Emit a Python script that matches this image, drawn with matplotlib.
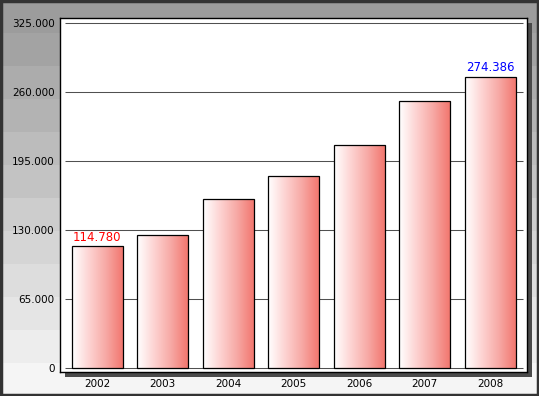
#!/usr/bin/env python3

import numpy as np
import matplotlib
matplotlib.use("Agg")
from matplotlib import pyplot as plt
from matplotlib.patches import Rectangle
from matplotlib.colors import LinearSegmentedColormap

# * Data

YEARS = ["2002", "2003", "2004", "2005", "2006", "2007", "2008"]
VALUES = [114780, 125300, 159300, 181200, 210500, 251400, 274386]
Y_TICKS = [0, 65000, 130000, 195000, 260000, 325000]
# value labels: index -> colour
LABELS = {0: "#ff0000", 6: "#0000ff"}

# * Layout (pixels in a 539x396 image)

W, H = 539, 396
BOX_L, BOX_R, BOX_T, BOX_B = 60, 527, 18, 372
SHADOW = 5
BAR_WIDTH = 0.78


def fmt(v):
    return "{:,}".format(v).replace(",", ".")


fig = plt.figure(figsize=(W / 100, H / 100), dpi=100)

# Banded gray background
bg = fig.add_axes([0, 0, 1, 1])
bands = np.linspace(0.61, 0.96, 12).reshape(-1, 1)
bg.imshow(bands, cmap="gray", vmin=0, vmax=1, aspect="auto",
          extent=(0, 1, 0, 1), interpolation="nearest")
bg.set_xlim(0, 1)
bg.set_ylim(0, 1)
bg.axis("off")

# Outer dark frame
fig.patches.append(Rectangle((1 / W, 1 / H), 1 - 2 / W, 1 - 2 / H,
                             transform=fig.transFigure, fill=False,
                             edgecolor="#333333", lw=2.5, zorder=10))

# Drop shadow behind the plot box
fig.patches.append(Rectangle(((BOX_L + SHADOW) / W, 1 - (BOX_B + SHADOW) / H),
                             (BOX_R - BOX_L) / W, (BOX_B - BOX_T) / H,
                             transform=fig.transFigure, facecolor="#4a4a4a",
                             edgecolor="none", zorder=1))

ax = fig.add_axes([BOX_L / W, 1 - BOX_B / H, (BOX_R - BOX_L) / W, (BOX_B - BOX_T) / H])
ax.set_zorder(2)
ax.set_facecolor("white")
for sp in ax.spines.values():
    sp.set_color("black")
    sp.set_linewidth(1.0)

x = np.arange(len(YEARS))

# grid lines
ax.hlines(Y_TICKS, -0.5, len(YEARS) - 0.5, colors="#505050", lw=0.75, zorder=1)

cmap = LinearSegmentedColormap.from_list(
    "bar", [(0, "#ffffff"), (0.35, "#fdd0cf"), (0.65, "#f7aaa6"), (1, "#f2756d")])
grad = np.linspace(0, 1, 64).reshape(1, -1)

bars = ax.bar(x, VALUES, width=BAR_WIDTH, facecolor="none",
              edgecolor="black", lw=0.9, zorder=3)
for b in bars:
    x0, w, h = b.get_x(), b.get_width(), b.get_height()
    im = ax.imshow(grad, cmap=cmap, aspect="auto", extent=(x0, x0 + w, 0, h),
                   interpolation="bicubic", zorder=2)
    im.set_clip_path(b)

for idx, col in LABELS.items():
    ax.annotate(fmt(VALUES[idx]), (x[idx], VALUES[idx]), xytext=(0, 4),
                textcoords="offset points", ha="center", va="baseline",
                color=col, fontsize=8.5)

ax.set_xlim(-0.57, len(YEARS) - 1 + 0.56)
ax.set_ylim(-3800, 329700)

ax.set_xticks(x)
ax.set_xticklabels(YEARS)
ax.set_yticks(Y_TICKS)
ax.set_yticklabels([fmt(v) for v in Y_TICKS])
ax.tick_params(axis="both", length=0, labelsize=7.5, colors="black")
ax.tick_params(axis="y", pad=4)
ax.tick_params(axis="x", pad=5)

fig.savefig("out.png", dpi=100)
